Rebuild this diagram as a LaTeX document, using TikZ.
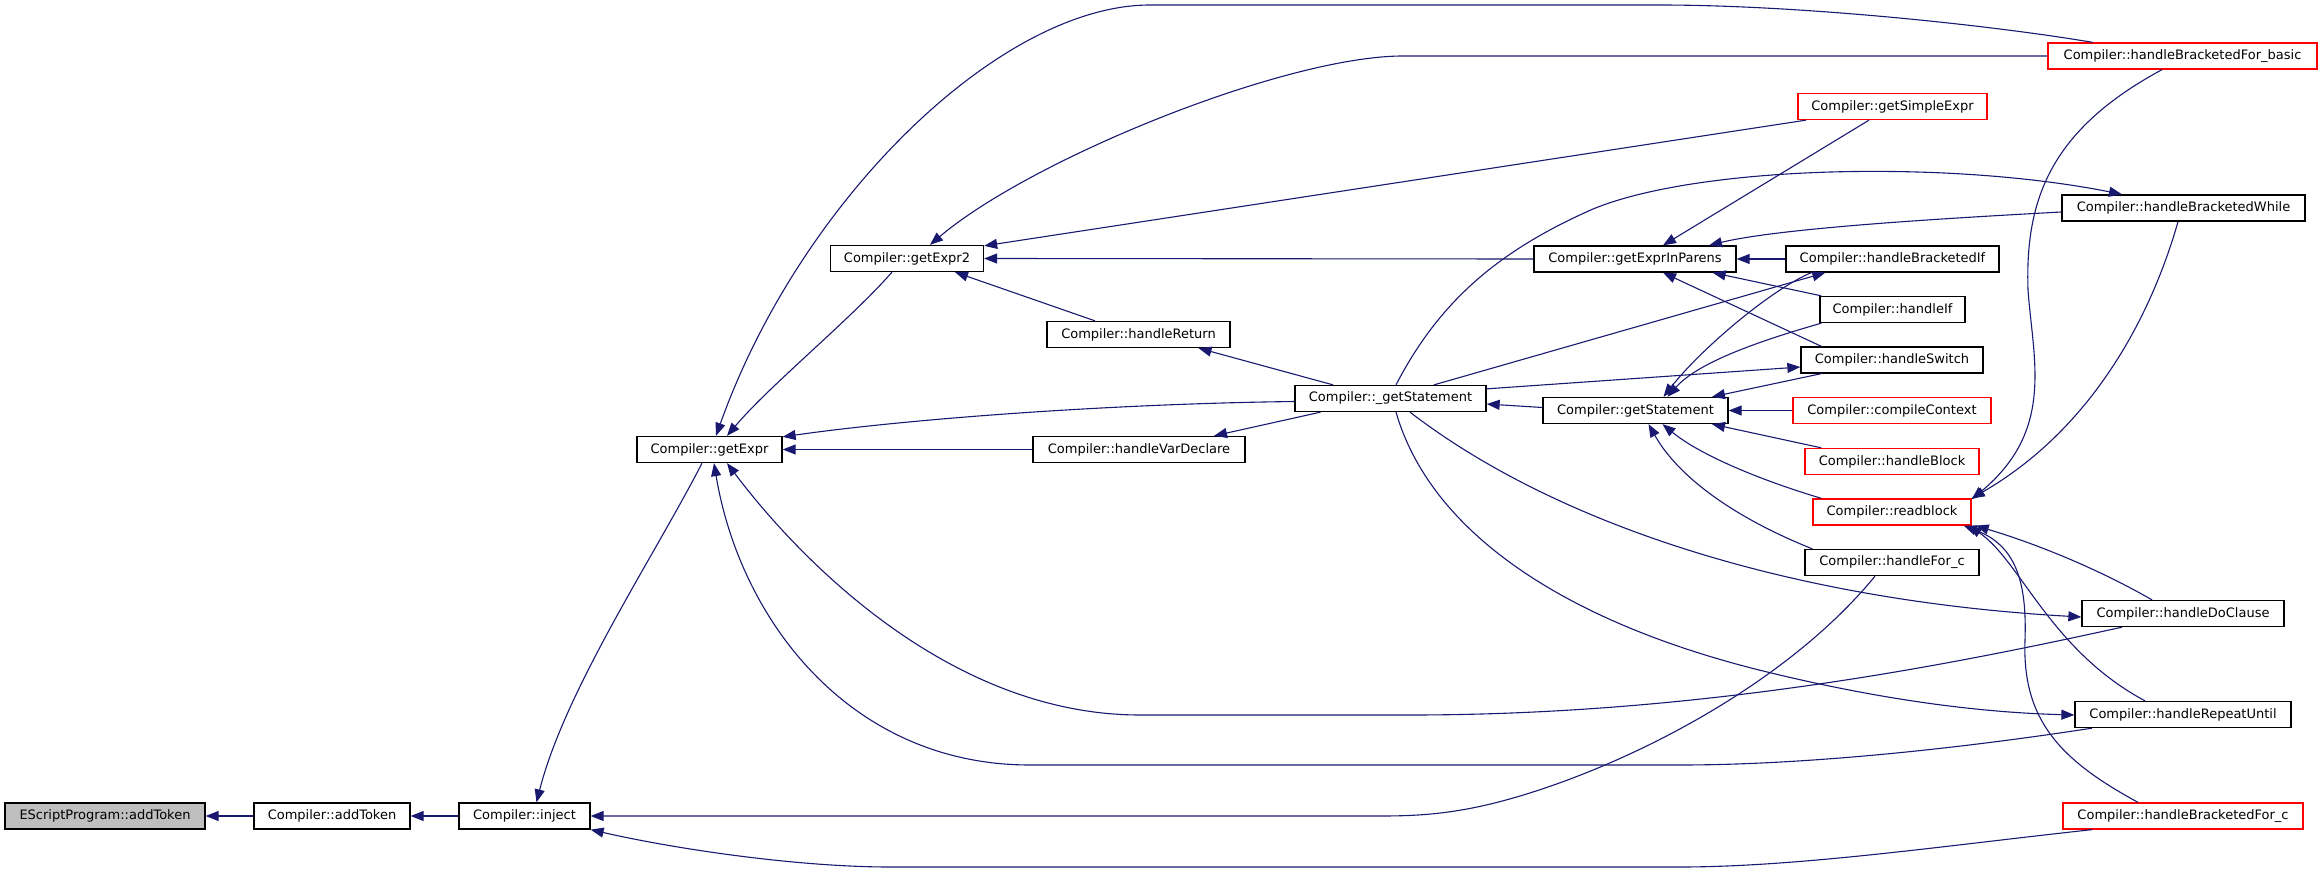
\documentclass[tikz,border=0pt]{standalone}
\usepackage{fontspec}
\setmainfont{DejaVu Sans}
\usetikzlibrary{arrows.meta}
\definecolor{edgec}{HTML}{191970}
\definecolor{nodered}{HTML}{FF0000}
\definecolor{nodegray}{HTML}{BFBFBF}
\begin{document}
\begin{tikzpicture}[x=1pt,y=-1pt,
  fn/.style={draw=black, line width=1.3pt, fill=white, minimum height=26pt, inner sep=0pt, font=\fontsize{13}{15}\selectfont, text=black},
  fnred/.style={fn, draw=nodered},
  fngray/.style={fn, fill=nodegray},
  call/.style={draw=edgec, line width=1.1pt, -{Triangle[length=13pt,width=10pt]}},
]
\useasboundingbox (0,0) rectangle (2323,872);
% nodes
\node[fngray, minimum width=200pt] (es) at (105,816) {EScriptProgram::addToken};
\node[fn, minimum width=156pt] (addt) at (332,816) {Compiler::addToken};
\node[fn, minimum width=131pt] (inject) at (524.5,816) {Compiler::inject};
\node[fn, minimum width=145pt] (gexpr) at (709.5,449.5) {Compiler::getExpr};
\node[fn, minimum width=153pt] (gexpr2) at (907,258.5) {Compiler::getExpr2};
\node[fn, minimum width=183pt] (hret) at (1138.5,334.5) {Compiler::handleReturn};
\node[fn, minimum width=212pt] (hvar) at (1139,449.5) {Compiler::handleVarDeclare};
\node[fn, minimum width=191pt] (ugst) at (1390.5,398.5) {Compiler::\_getStatement};
\node[fn, minimum width=185pt] (gst) at (1635.5,410.5) {Compiler::getStatement};
\node[fn, minimum width=202pt] (gparen) at (1635,259) {Compiler::getExprInParens};
\node[fnred, minimum width=189pt] (gsimple) at (1892.5,106.5) {Compiler::getSimpleExpr};
\node[fnred, minimum width=269pt] (hbfb) at (2182.5,56) {Compiler::handleBracketedFor\_basic};
\node[fn, minimum width=243pt] (hbw) at (2183.5,208) {Compiler::handleBracketedWhile};
\node[fn, minimum width=213pt] (hbif) at (1892.5,259) {Compiler::handleBracketedIf};
\node[fn, minimum width=145pt] (hif) at (1892.5,309.5) {Compiler::handleIf};
\node[fn, minimum width=182pt] (hsw) at (1892,360) {Compiler::handleSwitch};
\node[fnred, minimum width=198pt] (cctx) at (1892,410.5) {Compiler::compileContext};
\node[fnred, minimum width=174pt] (hblk) at (1892,461.5) {Compiler::handleBlock};
\node[fnred, minimum width=158pt] (rblk) at (1892,512) {Compiler::readblock};
\node[fn, minimum width=174pt] (hforc) at (1892,562.5) {Compiler::handleFor\_c};
\node[fn, minimum width=202pt] (hdo) at (2183,613.5) {Compiler::handleDoClause};
\node[fn, minimum width=216pt] (hrep) at (2183,714.5) {Compiler::handleRepeatUntil};
\node[fnred, minimum width=240pt] (hbfc) at (2183,816) {Compiler::handleBracketedFor\_c};
% edges
\draw[call] (addt.west) -- (es.east);
\draw[call] (inject.west) -- (addt.east);
\draw[call] ([xshift=-7.5pt]gexpr.south) .. controls (655,555) and (565,690) .. ([xshift=12pt]inject.north);
\draw[call] ([xshift=-91pt]hbfc.south) .. controls (1950,845) and (1800,867) .. (1680,867) -- (890,867) .. controls (800,867) and (680,850) .. (inject.south east);
\draw[call] ([xshift=-17pt]hforc.south) .. controls (1790,680) and (1640,760) .. (1520,796) .. controls (1460,814) and (1420,816) .. (1380,816) -- (inject.east);
\draw[call] ([xshift=-15pt]gexpr2.south) .. controls (850,320) and (770,385) .. ([xshift=17.5pt]gexpr.north);
\draw[call] ([xshift=-90pt]hbfb.north) .. controls (1990,25) and (1800,5) .. (1659,5) -- (1150,5) .. controls (1000,5) and (800,200) .. ([xshift=6.5pt]gexpr.north);
\draw[call] (hbfb.west) -- (1400,56) .. controls (1280,58) and (1030,160) .. ([xshift=23pt]gexpr2.north);
\draw[call] ([xshift=-86.5pt]gsimple.south) -- ([yshift=-1pt]gexpr2.north east);
\draw[call] (gparen.west) -- (gexpr2.east);
\draw[call] ([xshift=-43.5pt]hret.north) -- ([xshift=48pt]gexpr2.south);
\draw[call] ([xshift=-57.5pt]ugst.north) -- ([xshift=60pt]hret.south);
\draw[call] ([yshift=-3pt]ugst.west) .. controls (1100,404) and (900,420) .. ([yshift=-1pt]gexpr.north east);
\draw[call] (hvar.west) -- (gexpr.east);
\draw[call] ([xshift=-70pt]ugst.south) -- ([xshift=75pt]hvar.north);
\draw[call] ([xshift=-61pt]hdo.south) .. controls (1950,665) and (1700,715) .. (1410,715) -- (1140,715) .. controls (950,715) and (800,560) .. ([xshift=17.5pt]gexpr.south);
\draw[call] ([xshift=-91pt]hrep.south) .. controls (1950,750) and (1800,765) .. (1680,765) -- (1030,765) .. controls (850,765) and (740,620) .. ([xshift=4.5pt]gexpr.south);
\draw[call] ([yshift=3pt]gst.west) -- ([yshift=-5.5pt]ugst.east);
\draw[call] ([xshift=-23.5pt]gsimple.south) -- ([xshift=28pt]gparen.north);
\draw[call] ([yshift=-4pt]hbw.west) .. controls (1950,218) and (1780,228) .. ([xshift=74pt]gparen.north);
\draw[call] (hbif.west) -- (gparen.east);
\draw[call] ([xshift=2pt]hif.north west) -- ([xshift=-24pt]gparen.south east);
\draw[call] ([xshift=21pt]hsw.north west) -- ([xshift=28pt]gparen.south);
\draw[call] ([xshift=5.5pt]ugst.north) .. controls (1440,300) and (1500,250) .. (1593,209) .. controls (1700,165) and (1950,160) .. ([xshift=-61.5pt]hbw.north);
\draw[call] ([xshift=43.5pt]ugst.north) -- ([xshift=40pt]hbif.south west);
\draw[call] ([yshift=-4pt]ugst.north east) -- ([yshift=-7pt]hsw.west);
\draw[call] ([xshift=26pt]hbif.south west) .. controls (1770,290) and (1700,350) .. ([xshift=28pt]gst.north);
\draw[call] ([xshift=2pt]hif.south west) .. controls (1770,338) and (1700,360) .. ([xshift=32pt]gst.north);
\draw[call] ([xshift=21pt]hsw.south west) -- ([xshift=76.5pt]gst.north);
\draw[call] (cctx.west) -- (gst.east);
\draw[call] ([xshift=17pt]hblk.north west) -- ([xshift=76.5pt]gst.south);
\draw[call] ([xshift=9pt]rblk.north west) .. controls (1760,480) and (1700,455) .. ([xshift=27pt]gst.south);
\draw[call] ([xshift=8pt]hforc.north west) .. controls (1740,520) and (1680,480) .. ([xshift=13pt]gst.south);
\draw[call] ([xshift=-20.5pt]hbfb.south) .. controls (2050,130) and (2025,200) .. (2028,290) .. controls (2033,360) and (2055,430) .. ([yshift=-1pt]rblk.north east);
\draw[call] ([xshift=-5.5pt]hbw.south) .. controls (2150,320) and (2090,430) .. (rblk.north east);
\draw[call] ([xshift=-31pt]hdo.north) .. controls (2100,570) and (2040,545) .. ([xshift=4pt]rblk.south east);
\draw[call] ([xshift=-38pt]hrep.north) .. controls (2050,650) and (2020,560) .. ([xshift=-3pt]rblk.south east);
\draw[call] ([xshift=-45pt]hbfc.north) .. controls (2060,760) and (2022,720) .. (2025,640) .. controls (2027,580) and (2015,545) .. ([xshift=-8pt]rblk.south east);
\draw[call] ([xshift=19.5pt]ugst.south) .. controls (1550,520) and (1780,600) .. ([yshift=-3.5pt]hdo.west);
\draw[call] ([xshift=5.5pt]ugst.south) .. controls (1430,530) and (1560,620) .. (1759,670) .. controls (1900,705) and (2000,713) .. ([yshift=-0.5pt]hrep.west);
\end{tikzpicture}
\end{document}
